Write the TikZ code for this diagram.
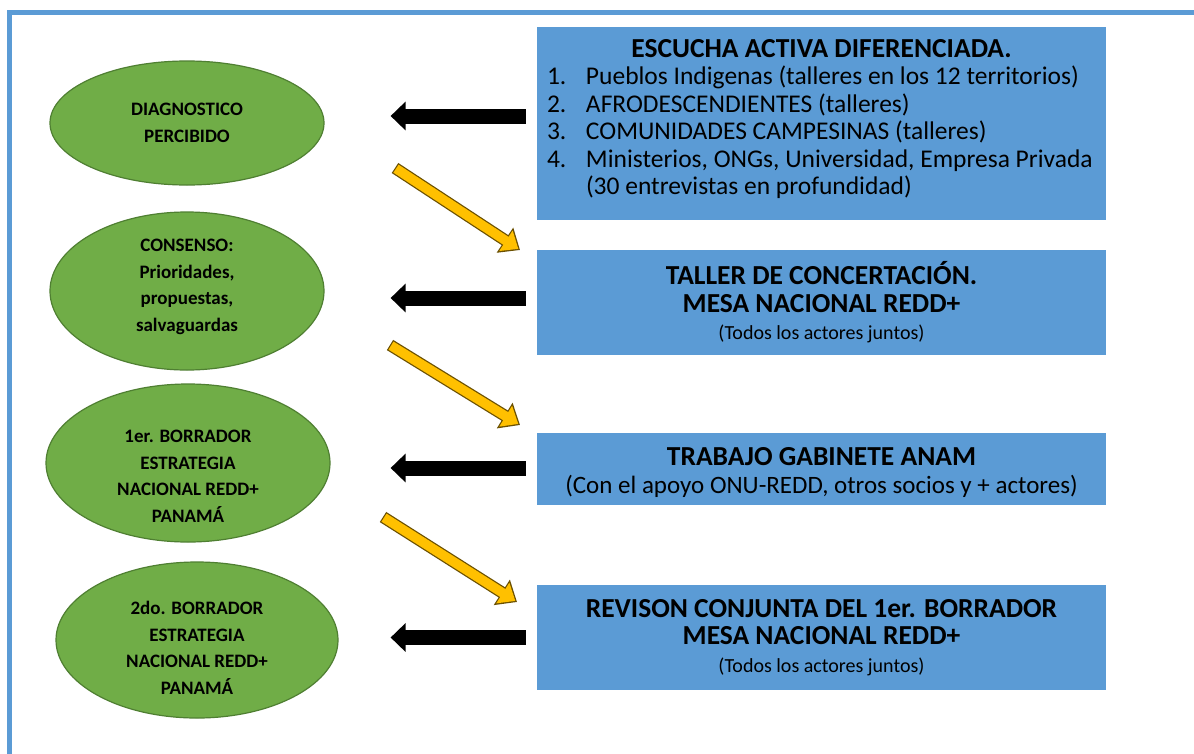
\documentclass[tikz,border=0pt]{standalone}
\usepackage{fontspec}
\setmainfont{Carlito}
\usetikzlibrary{shapes.geometric,arrows.meta,positioning}
\definecolor{boxblue}{HTML}{5B9BD5}
\definecolor{leafgreen}{HTML}{70AD47}
\definecolor{leafedge}{HTML}{4F7F32}
\definecolor{amber}{HTML}{FFC000}
\definecolor{amberedge}{HTML}{6B5000}
\newcommand{\ttl}{\fontsize{27.5}{27.5}\selectfont\bfseries}
\newcommand{\txt}{\fontsize{25.5}{27.7}\selectfont}
\newcommand{\smalltxt}{\fontsize{20}{27.5}\selectfont}
\newcommand{\lowr}[2]{\raisebox{#1}[\height][\depth]{\begin{tabular}{@{}c@{}}#2\end{tabular}}}
\newcommand{\itm}[2]{\makebox[549pt][l]{\makebox[39pt][l]{#1}#2}}
\tikzset{ell/.style = {ellipse,fill=leafgreen,draw=leafedge,line width=1.2pt,inner sep=0pt,align=center,font=\fontsize{19}{26.5}\selectfont\bfseries}}
\tikzset{box/.style = {rectangle,fill=boxblue,inner sep=0pt,minimum width=569pt,align=center,font=\fontsize{27.5}{27.5}\selectfont}}
\tikzset{blk/.style = {line width=15pt,-{Triangle[length=15pt,width=28pt]},shorten <=11pt}}
\tikzset{yelo/.style = {amberedge,line width=12pt,-{Triangle[length=18pt,width=29pt]}}}
\tikzset{yeli/.style = {amber,line width=9.5pt,-{Triangle[length=14.8pt,width=23.5pt]},shorten >=2pt,shorten <=1.2pt}}

\begin{document}
\begin{tikzpicture}[x=1pt,y=-1pt]
  \clip (0,0) rectangle (1194,753);
  \fill[white] (0,0) rectangle (1194,753);
  \draw[boxblue,line width=5pt] (9.5,760) -- (9.5,12.5) -- (1200,12.5);

  % left column
  \node[ell,minimum width=274pt,minimum height=124pt] (e1) at (187,123) {DIAGNOSTICO\\PERCIBIDO};
  \node[ell,minimum width=274pt,minimum height=158pt] (e2) at (187,291) {\lowr{5pt}{CONSENSO:\\Prioridades,\\propuestas,\\salvaguardas}};
  \node[ell,minimum width=284pt,minimum height=158pt] (e3) at (188,463) {\lowr{-14pt}{1er. BORRADOR\\ESTRATEGIA\\NACIONAL REDD+\\PANAMÁ}};
  \node[ell,minimum width=282pt,minimum height=156pt] (e4) at (197,640) {\lowr{-9pt}{2do. BORRADOR\\ESTRATEGIA\\NACIONAL REDD+\\PANAMÁ}};

  % right column
  \node[box,minimum height=193pt] (b1) at (821.5,123.5) {%
    \lowr{3pt}{\makebox[549pt][c]{\ttl ESCUCHA ACTIVA DIFERENCIADA.}\\
      \txt\itm{1.}{Pueblos Indigenas (talleres en los 12 territorios)}\\
      \txt\itm{2.}{AFRODESCENDIENTES (talleres)}\\
      \txt\itm{3.}{COMUNIDADES CAMPESINAS (talleres)}\\
      \txt\itm{4.}{Ministerios, ONGs, Universidad, Empresa Privada}\\
      \txt\itm{}{(30 entrevistas en profundidad)}}};
  \node[box,minimum height=105pt] (b2) at (821.5,302.5) {%
    \textbf{TALLER DE CONCERTACIÓN.}\\\textbf{MESA NACIONAL REDD+}\\{\smalltxt (Todos los actores juntos)}};
  \node[box,minimum height=72pt] (b3) at (821.5,469) {%
    \lowr{-5pt}{\textbf{TRABAJO GABINETE ANAM}\\{\fontsize{25}{27.5}\selectfont (Con el apoyo ONU-REDD, otros socios y + actores)}}};
  \node[box,minimum height=105pt] (b4) at (821.5,637.5) {%
    \textbf{REVISON CONJUNTA DEL 1er. BORRADOR}\\\textbf{MESA NACIONAL REDD+}\\{\smalltxt (Todos los actores juntos)}};

  \coordinate (y1s) at (395,168);
  \coordinate (y1t) at (520,250);
  \coordinate (y2s) at (390,345);
  \coordinate (y2t) at (520,425);
  \coordinate (y3s) at (383,517);
  \coordinate (y3t) at (517,602);

 \foreach \b/\e/\s/\g in {b1/e1/7.5/66,b2/e2/4.5/66,b3/e3/1/60,b4/e4/0/52}
   \draw[blk,shorten >=\g pt] ([yshift=\s pt]\b.west) -- ([yshift=\s pt]\b.west -| \e.east);

 \foreach \a/\b in {y1s/y1t,y2s/y2t,y3s/y3t}
   {\draw[yelo] (\a) -- (\b);
    \draw[yeli] (\a) -- (\b);}

\end{tikzpicture}
\end{document}
